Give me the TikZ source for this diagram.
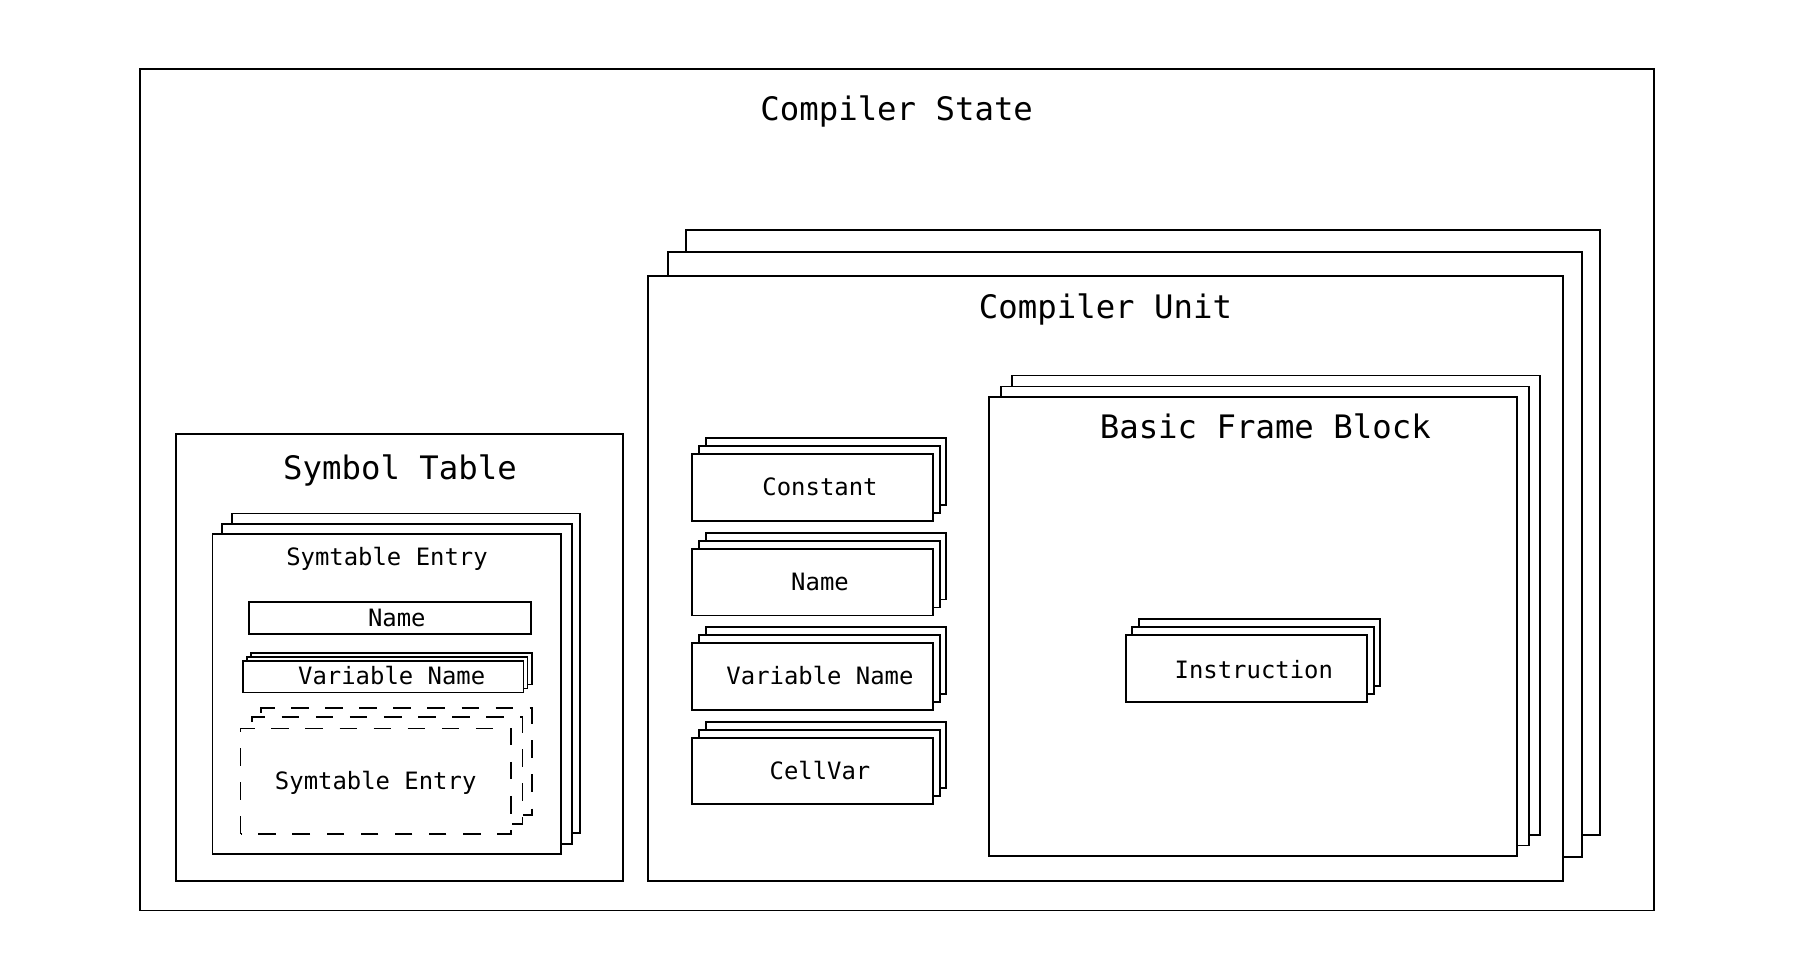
\documentclass[tikz,border=0pt]{standalone}
\usepackage{fontspec}
\setmonofont{DejaVu Sans Mono}
\usepackage{tikz}

\begin{document}
\begin{tikzpicture}[
        box/.style={line width=0.5, black, fill=white},
        dashbox/.style={box, dash pattern=on 5pt off 4.7pt},
        bigtext/.style={anchor=base, inner sep=0, font=\ttfamily\fontsize{9.2pt}{9.2pt}\selectfont},
        smalltext/.style={anchor=base, inner sep=0, font=\ttfamily\fontsize{6.8pt}{6.8pt}\selectfont}]
            \useasboundingbox (0,0) rectangle (18.04,9.74);
            % outer box
            \draw [box] (1.403,0.635) rectangle (16.543,9.05);
            \node [bigtext] (state) at (8.967,8.53) {Compiler State};
            % compiler unit stack
            \draw [box] (6.857,1.393) rectangle (16.00,7.443);
            \draw [box] (6.68,1.17) rectangle (15.823,7.22);
            \draw [box] (6.483,0.927) rectangle (15.627,6.98);
            \node [bigtext] (unit) at (11.055,6.557) {Compiler Unit};
            % basic frame block stack
            \draw [box] (10.117,1.392) rectangle (15.40,5.985);
            \draw [box] (10.01,1.285) rectangle (15.293,5.875);
            \draw [box] (9.89,1.182) rectangle (15.173,5.77);
            \node [bigtext] (block) at (12.653,5.353) {Basic Frame Block};
            % instruction stack
            \draw [box] (11.393,2.88) rectangle (13.803,3.547);
            \draw [box] (11.323,2.80) rectangle (13.737,3.467);
            \draw [box] (11.257,2.72) rectangle (13.673,3.387);
            \node [smalltext] (instr) at (12.538,2.95) {Instruction};
            % constant stack
            \draw [box] (7.057,4.693) rectangle (9.463,5.357);
            \draw [box] (6.99,4.613) rectangle (9.40,5.277);
            \draw [box] (6.923,4.533) rectangle (9.333,5.197);
            \node [smalltext] (const) at (8.20,4.783) {Constant};
            % name stack
            \draw [box] (7.057,3.746) rectangle (9.463,4.41);
            \draw [box] (6.99,3.666) rectangle (9.40,4.33);
            \draw [box] (6.923,3.586) rectangle (9.333,4.25);
            \node [smalltext] (uname) at (8.20,3.838) {Name};
            % variable name stack
            \draw [box] (7.057,2.803) rectangle (9.463,3.467);
            \draw [box] (6.99,2.723) rectangle (9.40,3.387);
            \draw [box] (6.923,2.643) rectangle (9.333,3.307);
            \node [smalltext] (uvarname) at (8.20,2.893) {Variable Name};
            % cellvar stack
            \draw [box] (7.057,1.859) rectangle (9.463,2.523);
            \draw [box] (6.99,1.779) rectangle (9.40,2.443);
            \draw [box] (6.923,1.699) rectangle (9.333,2.363);
            \node [smalltext] (cellvar) at (8.20,1.948) {CellVar};
            % symbol table box
            \draw [box] (1.76,0.927) rectangle (6.23,5.40);
            \node [bigtext] (symtab) at (4.00,4.947) {Symbol Table};
            % symtable entry stack
            \draw [box] (2.323,1.407) rectangle (5.803,4.605);
            \draw [box] (2.223,1.297) rectangle (5.717,4.503);
            \draw [box] (2.125,1.20) rectangle (5.607,4.397);
            \node [smalltext] (entry) at (3.87,4.08) {Symtable Entry};
            % name field
            \draw [box] (2.49,3.40) rectangle (5.307,3.72);
            \node [smalltext] (sname) at (3.968,3.473) {Name};
            % variable name field
            \draw [box] (2.507,2.895) rectangle (5.317,3.213);
            \draw [box] (2.467,2.855) rectangle (5.275,3.173);
            \draw [box] (2.427,2.815) rectangle (5.235,3.133);
            \node [smalltext] (svarname) at (3.917,2.89) {Variable Name};
            % nested entries, dashed
            \draw [dashbox] (2.612,1.592) rectangle (5.317,2.657);
            \draw [dashbox] (2.523,1.497) rectangle (5.225,2.567);
            \draw [dashbox] (2.405,1.40) rectangle (5.107,2.455);
            \node [smalltext] (subentry) at (3.757,1.847) {Symtable Entry};
\end{tikzpicture}
\end{document}
